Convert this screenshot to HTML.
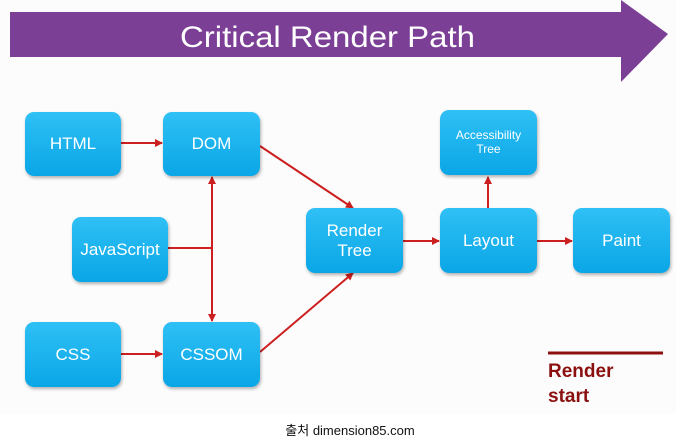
<!DOCTYPE html>
<html><head><style>
body{margin:0;width:700px;height:440px;background:#fff;position:relative;overflow:hidden;font-family:"Liberation Sans",sans-serif}
.b{position:absolute;background:linear-gradient(#2fc0f5,#0aa6e6);border-radius:9px;color:#fff;display:flex;align-items:center;justify-content:center;text-align:center;font-size:17px;box-shadow:1px 2px 3px rgba(0,0,0,.3);line-height:1.15}
</style></head><body>
<div style="position:absolute;left:0;top:0;width:676px;height:414px;background:#fcfcfc"></div>
<svg width="700" height="440" style="position:absolute;left:0;top:0">
<polygon points="10,12 621,12 621,0 668,34 621,82 621,57 10,57" fill="#7b3f96"/>
<text x="180" y="47" fill="#fff" font-size="30" textLength="295" lengthAdjust="spacingAndGlyphs" font-family="Liberation Sans">Critical Render Path</text>
<defs><marker id="a" markerWidth="8" markerHeight="8" refX="7" refY="4" orient="auto" markerUnits="userSpaceOnUse"><path d="M0,0L8,4L0,8z" fill="#cc2020"/></marker></defs>
<g stroke="#cc2020" stroke-width="2" fill="none" marker-end="url(#a)">
<line x1="121" y1="143" x2="162" y2="143"/>
<line x1="121" y1="354" x2="162" y2="354"/>
<line x1="260" y1="146" x2="353" y2="208"/>
<line x1="260" y1="352" x2="353" y2="273"/>
<line x1="212" y1="248" x2="212" y2="177"/>
<line x1="212" y1="248" x2="212" y2="321"/>
<line x1="403" y1="241" x2="439" y2="241"/>
<line x1="537" y1="241" x2="572" y2="241"/>
<line x1="488" y1="208" x2="488" y2="177"/>
</g>
<line x1="168" y1="248" x2="212" y2="248" stroke="#cc2020" stroke-width="2"/>
<line x1="548" y1="353" x2="663" y2="353" stroke="#8b1010" stroke-width="3"/>
<text x="548" y="377" fill="#8b1010" font-size="19" font-weight="bold">Render</text>
<text x="548" y="402" fill="#8b1010" font-size="19" font-weight="bold">start</text>
</svg>
<div class="b" style="left:25px;top:112px;width:96px;height:64px">HTML</div>
<div class="b" style="left:163px;top:112px;width:97px;height:64px">DOM</div>
<div class="b" style="left:72px;top:217px;width:96px;height:65px">JavaScript</div>
<div class="b" style="left:25px;top:322px;width:96px;height:65px">CSS</div>
<div class="b" style="left:163px;top:322px;width:97px;height:65px">CSSOM</div>
<div class="b" style="left:306px;top:208px;width:97px;height:65px">Render<br>Tree</div>
<div class="b" style="left:440px;top:110px;width:97px;height:65px;font-size:12px">Accessibility<br>Tree</div>
<div class="b" style="left:440px;top:208px;width:97px;height:65px">Layout</div>
<div class="b" style="left:573px;top:208px;width:97px;height:65px">Paint</div>
<div style="position:absolute;left:0;width:700px;top:420px;text-align:center;font-size:13px;color:#111;font-family:'Liberation Sans','Noto Sans CJK KR',sans-serif">출처 dimension85.com</div>
</body></html>
